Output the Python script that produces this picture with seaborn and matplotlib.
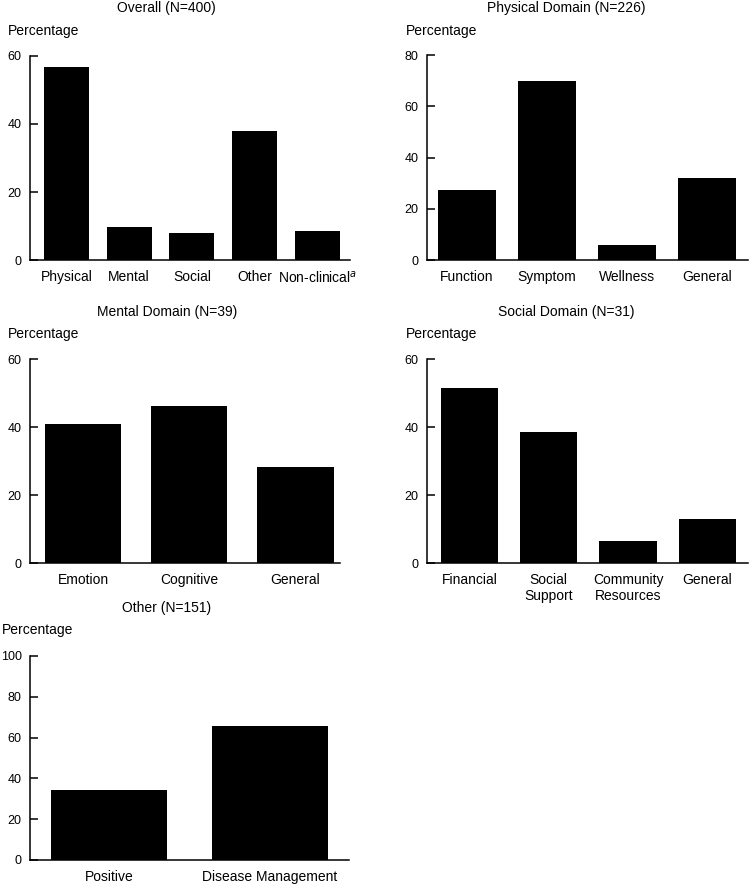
import matplotlib
matplotlib.use("Agg")
import matplotlib.pyplot as plt
import seaborn as sns
import pandas as pd

# ---- data ----
overall_cats = ["Physical", "Mental", "Social", "Other", "Non-clinical$^{a}$"]
overall_vals = [56.8, 9.8, 8.0, 37.9, 8.6]

physical_cats = ["Function", "Symptom", "Wellness", "General"]
physical_vals = [27.2, 70.0, 5.9, 32.1]

mental_cats = ["Emotion", "Cognitive", "General"]
mental_vals = [41.0, 46.2, 28.2]

social_cats = ["Financial", "Social\nSupport", "Community\nResources", "General"]
social_vals = [51.6, 38.7, 6.5, 12.9]

other_cats = ["Positive", "Disease Management"]
other_vals = [34.4, 65.6]

titles = ["Overall (N=400)", "Physical Domain (N=226)", "Mental Domain (N=39)",
          "Social Domain (N=31)", "Other (N=151)"]
yticks_list = [[0, 20, 40, 60], [0, 20, 40, 60, 80], [0, 20, 40, 60],
               [0, 20, 40, 60], [0, 20, 40, 60, 80, 100]]

sns.set_theme(style="white")
plt.rcParams["font.family"] = ["Liberation Sans", "DejaVu Sans"]
plt.rcParams["mathtext.fontset"] = "custom"
plt.rcParams["mathtext.rm"] = "Liberation Sans"

W, H = 750, 886
fig = plt.figure(figsize=(W / 100, H / 100), dpi=100)

# axes boxes in pixels: left, top, right, bottom
boxes = [
    (30, 56, 350, 260),
    (426.7, 55, 747.7, 260),
    (30, 359, 340, 563.3),
    (426.7, 359, 747.7, 563.3),
    (30, 656, 349, 860),
]
xlims = [(-0.58, 4.52), (-0.5, 3.51), (-0.5, 2.42), (-0.54, 3.51), (-0.49, 1.49)]
# title centre / "Percentage" left position in pixels
title_pos = [(166.7, 8.3), (566, 8.3), (166.7, 311.7), (566, 311.7), (166.7, 608.3)]
perc_pos = [(8, 31.5), (405.7, 31.5), (8.3, 334.3), (405.7, 334.3), (1.7, 630)]

datasets = [(overall_cats, overall_vals), (physical_cats, physical_vals),
            (mental_cats, mental_vals), (social_cats, social_vals),
            (other_cats, other_vals)]

for i, ((cats, vals), box) in enumerate(zip(datasets, boxes)):
    l, t, r, b = box
    ax = fig.add_axes([l / W, 1 - b / H, (r - l) / W, (b - t) / H])
    df = pd.DataFrame({"cat": cats, "val": vals})
    sns.barplot(data=df, x="cat", y="val", color="black", width=0.72,
                saturation=1, ax=ax, edgecolor="black", linewidth=0)
    ax.set_xlim(*xlims[i])
    yt = yticks_list[i]
    ax.set_ylim(0, yt[-1])
    ax.set_yticks(yt)
    ax.set_yticklabels([str(v) for v in yt])
    ax.set_xlabel("")
    ax.set_ylabel("")
    for s in ["top", "right"]:
        ax.spines[s].set_visible(False)
    for s in ["left", "bottom"]:
        ax.spines[s].set_color("black")
        ax.spines[s].set_linewidth(1.1)
    ax.tick_params(axis="y", direction="in", length=6, width=1.1, color="black",
                   labelsize=9, pad=6, left=True)
    ax.tick_params(axis="x", length=0, labelsize=10, pad=7)
    for lab in ax.get_xticklabels() + ax.get_yticklabels():
        lab.set_color("black")
    ax.set_facecolor("white")
    tx, ty = title_pos[i]
    fig.text(tx / W, 1 - ty / H, titles[i], ha="center", va="center",
             fontsize=10, color="black")
    px, py = perc_pos[i]
    fig.text(px / W, 1 - py / H, "Percentage", ha="left", va="center",
             fontsize=10, color="black")

fig.savefig("out.png", dpi=100, facecolor="white")
